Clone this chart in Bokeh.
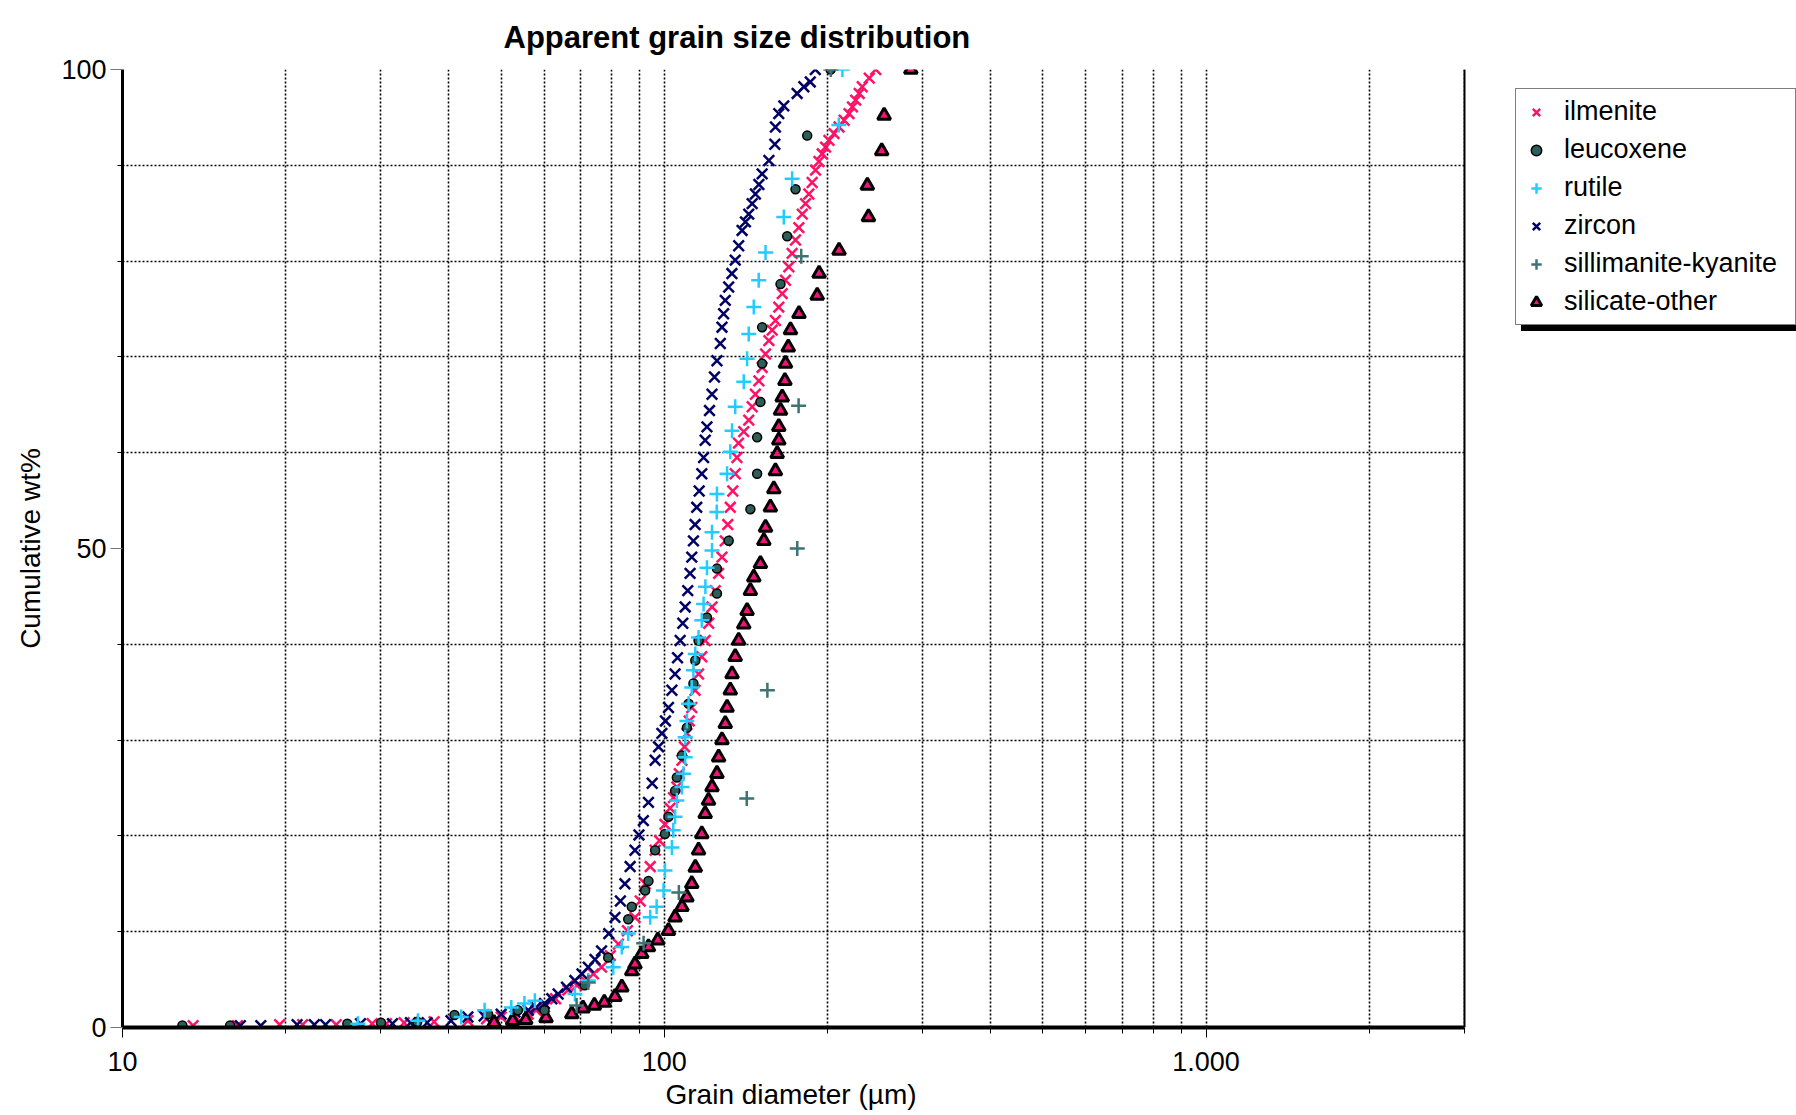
import math
from bokeh.plotting import figure
from bokeh.models import (FixedTicker, CustomJSTickFormatter, Legend, LegendItem,
                          Range1d, BoxAnnotation, Span, Title)
from bokeh.embed import file_html
from bokeh.resources import INLINE

# ---------------- data (grain diameter in µm, cumulative wt%) ----------------
ilmenite_d = [13.5, 16.3, 19.5, 21.5, 24.8, 28.9, 30.7, 33.1, 37.6, 43.4, 47.0, 50.0, 53.0, 56.1, 58.0,
              60.1, 63.0, 66.4, 69.0, 71.3, 74.0, 76.6, 79.5, 82.3, 85.5, 88.3, 90.3, 92.2, 94.2, 96.2,
              98.0, 100.3, 102.5, 104.0, 105.5, 106.6, 107.8, 109.0, 110.1, 111.2, 112.4, 114.0, 115.7,
              117.3, 119.0, 120.8, 122.5, 124.2, 126.0, 127.8, 129.6, 131.0, 132.4, 133.8, 135.2, 136.2,
              137.1, 140.2, 143.2, 145.3, 147.3, 149.5, 151.6, 153.8, 156.0, 158.2, 160.4, 162.7, 165.1,
              167.4, 169.8, 172.2, 174.7, 177.2, 179.8, 182.3, 184.9, 187.5, 190.2, 193.0, 195.7, 198.5,
              201.4, 205.8, 210.2, 214.8, 219.3, 222.5, 225.6, 229.0, 232.0, 239.0, 245.7]
ilmenite_pct = [0.2, 0.2, 0.3, 0.3, 0.3, 0.4, 0.4, 0.5, 0.6, 0.7, 0.9, 1.1, 1.2, 1.4, 1.8,
                2.1, 3.0, 3.9, 4.4, 4.9, 5.6, 6.3, 7.5, 8.7, 10.1, 11.5, 13.2, 15.0, 16.8, 18.5,
                19.5, 21.2, 22.9, 24.0, 25.1, 26.5, 27.9, 29.3, 30.7, 32.0, 33.4, 35.2, 36.9,
                38.7, 40.4, 42.2, 43.9, 45.6, 47.4, 49.1, 50.8, 52.5, 54.3, 56.0, 57.8, 59.5,
                61.0, 62.2, 63.4, 64.8, 66.1, 67.5, 68.9, 70.3, 71.7, 72.8, 73.8, 75.2, 76.6,
                78.0, 79.4, 80.8, 82.2, 83.5, 84.9, 86.0, 87.0, 88.2, 89.5, 90.4, 91.2, 91.9,
                92.6, 93.3, 94.0, 94.7, 95.4, 96.1, 96.8, 97.5, 98.2, 99.1, 100.0]

leucoxene_d = [12.9, 15.8, 26.0, 30.0, 35.0, 41.0, 47.3, 53.7, 60.1, 71.3, 78.8, 85.8, 87.1, 92.2,
               93.5, 96.2, 100.3, 101.8, 104.7, 105.5, 107.8, 110.1, 110.9, 113.2, 114.1, 115.7,
               119.9, 125.1, 125.1, 131.5, 144.2, 148.4, 148.4, 150.5, 151.6, 151.6, 163.9, 168.6,
               174.7, 183.6, 202.8]
leucoxene_pct = [0.2, 0.2, 0.4, 0.5, 0.6, 1.3, 1.4, 1.8, 1.8, 4.4, 7.3, 11.3, 12.6, 14.3,
                 15.3, 18.5, 20.2, 22.0, 24.7, 26.1, 28.4, 31.3, 33.8, 35.9, 38.3, 40.4,
                 42.8, 45.3, 47.9, 50.8, 54.1, 57.8, 61.6, 65.3, 69.3, 73.1, 77.6, 82.6,
                 87.5, 93.1, 100.0]

rutile_d = [27.2, 35.1, 42.2, 46.6, 52.2, 55.2, 57.7, 68.4, 72.4, 80.5, 83.5, 85.8, 94.2, 96.8,
            99.7, 100.3, 103.3, 103.9, 104.7, 105.5, 107.8, 108.5, 109.3, 109.3, 110.1, 110.9,
            112.4, 113.2, 114.1, 115.7, 117.3, 118.2, 119.1, 119.9, 122.5, 122.5, 125.0, 125.1,
            130.6, 132.4, 133.4, 135.2, 140.2, 142.2, 143.2, 146.3, 149.4, 153.8, 166.2, 172.2,
            210.0, 213.2]
rutile_pct = [0.4, 0.7, 1.1, 1.8, 2.1, 2.5, 2.8, 3.5, 4.9, 6.3, 8.4, 9.8, 11.5, 12.6,
              14.3, 16.4, 18.8, 20.6, 22.0, 23.7, 25.1, 26.5, 28.2, 30.3, 32.0, 33.8,
              35.5, 37.3, 39.0, 40.7, 42.5, 44.2, 46.0, 48.0, 49.8, 51.7, 53.8, 55.7,
              57.8, 60.1, 62.3, 64.8, 67.4, 69.8, 72.4, 75.2, 78.0, 80.9, 84.6, 88.6,
              94.2, 100.0]

zircon_d = [16.5, 18.0, 21.0, 22.6, 23.7, 27.5, 31.5, 34.0, 36.5, 40.4, 43.4, 46.5, 50.0, 53.0,
            56.1, 58.0, 60.1, 62.0, 63.7, 66.0, 68.4, 70.5, 72.4, 74.5, 76.6, 79.0, 81.1, 83.0,
            84.6, 86.5, 88.3, 89.8, 91.5, 93.5, 95.0, 96.2, 97.6, 99.0, 100.5, 101.8, 103.3,
            104.7, 105.8, 107.0, 108.2, 109.3, 110.5, 111.6, 112.4, 113.2, 114.0, 114.8, 116.0,
            117.3, 118.2, 119.0, 119.9, 121.2, 122.5, 123.8, 125.1, 126.9, 127.8, 128.7, 129.6,
            131.5, 133.3, 135.2, 137.2, 139.2, 141.2, 143.2, 145.3, 147.3, 149.5, 151.6, 156.0,
            160.0, 160.4, 162.7, 166.2, 175.9, 181.0, 186.0, 190.0]
zircon_pct = [0.2, 0.2, 0.3, 0.3, 0.3, 0.4, 0.4, 0.5, 0.5, 0.7, 1.1, 1.2, 1.4, 1.6,
              1.8, 2.1, 2.5, 3.0, 3.5, 4.2, 4.9, 5.6, 6.3, 7.1, 8.0, 9.8, 11.5, 13.2,
              15.0, 16.8, 18.5, 20.1, 21.6, 23.5, 25.5, 27.9, 29.3, 30.7, 32.0, 33.4, 35.2,
              36.9, 38.6, 40.4, 42.2, 43.9, 45.6, 47.4, 49.1, 50.8, 52.5, 54.3, 56.0,
              57.8, 59.5, 61.3, 62.7, 64.4, 66.1, 67.9, 69.6, 71.4, 73.1, 74.5, 75.9,
              77.3, 78.7, 80.1, 81.6, 83.2, 84.1, 84.9, 86.0, 87.0, 88.0, 89.1, 90.5,
              92.2, 94.0, 95.4, 96.2, 97.5, 98.2, 98.7, 100.0]

sillimanite_d = [68.9, 72.4, 91.6, 106.4, 142.0, 155.0, 176.0, 177.0, 179.0, 203.0]
sillimanite_pct = [2.3, 4.7, 8.8, 14.1, 23.9, 35.2, 50.0, 64.9, 80.5, 100.0]

silicate_d = [48.5, 52.5, 55.5, 60.5, 67.5, 70.8, 74.3, 77.5, 81.1, 83.5, 87.1, 88.3, 90.9, 93.5,
              97.3, 101.8, 104.7, 107.8, 110.1, 112.4, 114.1, 115.7, 117.3, 119.0, 120.7, 122.5,
              125.1, 126.0, 127.8, 129.6, 130.6, 132.4, 133.4, 135.2, 137.2, 140.2, 142.2, 144.2,
              146.3, 150.5, 152.7, 153.8, 157.0, 159.3, 160.4, 161.6, 162.7, 162.7, 163.9, 165.1,
              167.0, 167.4, 169.4, 171.0, 177.3, 191.6, 193.1, 210.2, 238.2, 237.1, 252.0, 254.6,
              285.2]
silicate_pct = [0.5, 0.7, 0.8, 1.0, 1.4, 2.0, 2.3, 2.6, 3.2, 4.2, 5.9, 6.6, 7.7, 8.4,
                9.1, 10.1, 11.5, 12.6, 13.6, 15.0, 16.7, 18.5, 20.2, 22.3, 23.7, 25.1,
                26.5, 28.2, 30.0, 31.7, 33.4, 35.2, 36.9, 38.7, 40.4, 42.1, 43.5, 45.6,
                47.0, 48.4, 50.8, 52.2, 54.3, 56.2, 58.1, 59.9, 61.3, 62.7, 64.4, 65.8,
                67.5, 69.3, 71.0, 72.8, 74.5, 76.4, 78.7, 81.1, 84.6, 87.9, 91.5, 95.2,
                100.0]

series_names = ["ilmenite", "leucoxene", "rutile", "zircon", "sillimanite-kyanite", "silicate-other"]

x_min, x_max = 10, 3000
x_major = [10, 100, 1000]
x_minor = [20, 30, 40, 50, 60, 70, 80, 90, 200, 300, 400, 500, 600, 700, 800, 900, 2000, 3000]
y_major = [0, 50, 100]
y_minor = [10, 20, 30, 40, 60, 70, 80, 90]

FONT = "Liberation Sans"

# layout geometry: plotting area 122..1464 px; the frame extends to the page edge so that
# the legend (inside the frame) is not clipped; the area right of x_max is blanked.
W, H = 1796, 1115
LEFT, TOP, BOTTOM = 122, 69, 88
PLOT_W = 1342
FRAME_W = W - LEFT
x_end = 10 ** (math.log10(x_min) + math.log10(x_max / x_min) * FRAME_W / PLOT_W)

p = figure(width=W, height=H, x_axis_type="log",
           x_range=Range1d(x_min, x_end), y_range=Range1d(0, 100),
           output_backend="svg", toolbar_location=None,
           min_border_left=LEFT, min_border_right=0, min_border_top=TOP, min_border_bottom=BOTTOM,
           title="Apparent grain size distribution")
p.background_fill_color = "white"
p.border_fill_color = "white"
p.outline_line_color = None

p.title.text_font = FONT
p.title.text_font_style = "bold"
p.title.text_font_size = "31px"
p.title.text_color = "black"
p.title.align = "left"
p.title.offset = 381
p.title.standoff = 29

# grids: dotted
p.xgrid.ticker = FixedTicker(ticks=sorted(x_major[1:] + x_minor))
p.ygrid.ticker = FixedTicker(ticks=y_minor + [100])
for g in (p.xgrid, p.ygrid):
    g.grid_line_color = "#000000"
    g.grid_line_width = 1.6
    g.grid_line_dash = "2 2"

# x axis
xa = p.xaxis[0]
xa.bounds = (x_min, x_max)
xa.ticker = FixedTicker(ticks=x_major, minor_ticks=x_minor)
xa.formatter = CustomJSTickFormatter(code="""
const v = Math.round(tick);
if (v >= 1000) { return Math.floor(v/1000) + '.' + String(v % 1000).padStart(3, '0'); }
return String(v);
""")
xa.axis_line_width = 4
xa.axis_line_color = "black"
xa.major_tick_out = 10
xa.major_tick_in = 0
xa.minor_tick_out = 6
xa.minor_tick_in = 0
xa.major_tick_line_color = "black"
xa.minor_tick_line_color = "black"
xa.major_label_standoff = 14

# x axis label as a left-aligned title below the axis (centred under the plotting area)
xlabel = Title(text="Grain diameter (µm)", align="left", offset=543, standoff=7,
               text_font=FONT, text_font_size="28px", text_font_style="normal",
               text_color="black")
p.add_layout(xlabel, "below")

# y axis
ya = p.yaxis[0]
ya.ticker = FixedTicker(ticks=y_major, minor_ticks=y_minor)
ya.axis_label = "Cumulative wt%"
ya.axis_line_width = 3
ya.axis_line_color = "black"
ya.major_tick_out = 12
ya.major_tick_in = 0
ya.minor_tick_out = 5
ya.minor_tick_in = 0
ya.major_tick_line_color = "#777777"
ya.minor_tick_line_color = "black"
ya.major_label_standoff = 4
ya.axis_label_standoff = 12
ya.axis_label_text_font = FONT
ya.axis_label_text_font_size = "28px"
ya.axis_label_text_font_style = "normal"
ya.axis_label_text_color = "black"

for ax in (xa, ya):
    ax.major_label_text_font = FONT
    ax.major_label_text_font_size = "27px"
    ax.major_label_text_color = "black"

# series
r_ilm = p.scatter(ilmenite_d, ilmenite_pct, marker="x", size=15, line_color="#FF1166", line_width=2.5)
r_zir = p.scatter(zircon_d, zircon_pct, marker="x", size=15, line_color="#000066", line_width=2.5)
r_sil = p.scatter(silicate_d, silicate_pct, marker="triangle", size=13, fill_color="#F0147A",
                  line_color="black", line_width=3)
r_leu = p.scatter(leucoxene_d, leucoxene_pct, marker="circle", size=9, fill_color="#2E5E5A",
                  line_color="black", line_width=1.5)
r_rut = p.scatter(rutile_d, rutile_pct, marker="cross", size=15, line_color="#22CCFF", line_width=2.5)
r_sk = p.scatter(sillimanite_d, sillimanite_pct, marker="cross", size=15, line_color="#3F7373", line_width=2.5)
legend_renderers = [r_ilm, r_leu, r_rut, r_zir, r_sk, r_sil]

# blank the area right of the plotting area and draw its right edge
p.add_layout(BoxAnnotation(left=x_max, fill_color="white", fill_alpha=1.0, line_color=None))
p.add_layout(Span(location=x_max, dimension="height", line_color="black", line_width=2))

def style_legend(lg):
    lg.label_text_font = FONT
    lg.label_text_font_size = "27px"
    lg.label_height = 30
    lg.label_width = 224
    lg.glyph_height = 30
    lg.glyph_width = 26
    lg.spacing = 7
    lg.padding = 7
    lg.label_standoff = 15
    lg.margin = 0
    lg.border_line_width = 1.5

LEG_X = 1515 - LEFT
LEG_Y = 1027 - 88 - 237

# drop shadow: an identical box (blank labels) offset down-right, drawn underneath
shadow = Legend(items=[LegendItem(label=" ", renderers=[r]) for r in legend_renderers],
                location=(LEG_X + 6, LEG_Y - 6))
style_legend(shadow)
shadow.background_fill_color = "black"
shadow.background_fill_alpha = 1.0
shadow.border_line_color = "black"
p.add_layout(shadow)

legend = Legend(items=[LegendItem(label=n, renderers=[r]) for n, r in zip(series_names, legend_renderers)],
                location=(LEG_X, LEG_Y))
style_legend(legend)
legend.background_fill_color = "white"
legend.background_fill_alpha = 1.0
legend.border_line_color = "black"
legend.label_text_color = "black"
p.add_layout(legend)

open("out.html", "w").write(file_html(p, INLINE))
